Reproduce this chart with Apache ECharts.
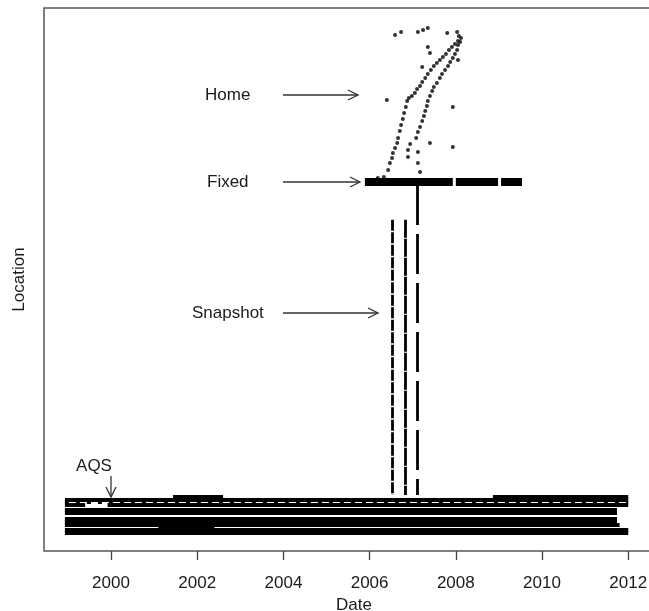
<!DOCTYPE html>
<html>

<head>
    <meta charset="UTF-8">
    <title>Location vs Date</title>
    <script src="https://cdn.jsdelivr.net/npm/echarts@6/dist/echarts.min.js"></script>
    <style>
        body { margin: 0; background: #fff; }
        #main { width: 649px; height: 611px; }
    </style>
</head>

<body>
    <div id="main"></div>

    <script>
        // x ticks
        var yearTicks = [2000, 2002, 2004, 2006, 2008, 2010, 2012];

        // AQS stations: location index, first and last date of record
        var aqsLoc   = [10.04, 10.04, 9.48, 8.47, 8.47, 7.55, 7.00, 5.97, 5.41, 4.83, 4.33, 3.83, 3.43];
        var aqsStart = [2001.44, 2008.86, 1998.93, 1998.93, 1999.92, 1998.93, 1998.93, 1998.93, 1998.93, 1998.93, 2001.10, 1998.93, 1998.93];
        var aqsEnd   = [2002.60, 2012.00, 2012.00, 1999.40, 2012.00, 2011.74, 2011.74, 2011.74, 2011.74, 2011.80, 2002.40, 2012.00, 2012.00];
        // intermittent AQS station
        var aqsGapLoc = [9.02];
        var aqsGapStart = [1998.93];
        var aqsGapEnd = [2012.00];

        // Fixed monitor: location and operating periods
        var fixedLoc = 68.0;
        var fixedStart = [2005.89, 2008.00, 2009.05];
        var fixedEnd = [2007.93, 2008.98, 2009.535];

        // Snapshot campaigns: date, highest and lowest location
        var snapDate = [2006.52, 2006.82, 2007.10];
        var snapTop = [61.0, 61.0, 67.4];
        var snapBottom = [10.3, 10.3, 10.3];

        // Home sites [date, location]
        var homePts = [
            [2006.19, 68.69], [2006.33, 68.88], [2006.43, 70.17], [2006.47, 71.45], [2006.52, 72.38],
            [2006.54, 73.30], [2006.59, 74.22], [2006.64, 75.14], [2006.66, 76.06], [2006.70, 77.35],
            [2006.73, 78.45], [2006.77, 79.56], [2006.80, 80.66], [2006.84, 81.77], [2006.87, 82.87],
            [2006.91, 83.43], [2006.98, 83.79], [2007.05, 84.35], [2007.10, 85.08], [2007.17, 85.64],
            [2007.22, 86.37], [2007.29, 87.11], [2007.35, 87.85], [2007.42, 88.58], [2007.49, 89.32],
            [2007.56, 89.87], [2007.63, 90.42], [2007.70, 90.98], [2007.77, 91.53], [2007.84, 92.27],
            [2007.91, 92.82], [2007.98, 93.37], [2008.05, 93.92], [2008.12, 94.48],
            [2006.89, 72.56], [2006.89, 73.85], [2006.94, 74.95], [2007.08, 76.06], [2007.12, 77.16],
            [2007.17, 78.08], [2007.22, 79.19], [2007.26, 80.11], [2007.29, 81.03], [2007.33, 81.95],
            [2007.35, 82.87], [2007.40, 83.79], [2007.45, 84.71], [2007.49, 85.45], [2007.56, 86.19],
            [2007.63, 87.11], [2007.68, 87.85], [2007.75, 88.58], [2007.82, 89.32], [2007.87, 90.06],
            [2007.93, 90.79], [2007.98, 91.53], [2008.03, 92.27], [2008.05, 93.19], [2008.10, 93.74],
            [2008.07, 94.84],
            [2006.40, 83.06], [2006.59, 95.03], [2006.73, 95.58], [2007.12, 95.58], [2007.24, 95.95],
            [2007.35, 96.32], [2007.80, 95.40], [2008.03, 95.58], [2007.93, 81.77], [2007.93, 74.40],
            [2007.40, 75.14], [2007.35, 92.82], [2007.40, 91.71], [2007.22, 89.13], [2007.12, 71.45],
            [2007.17, 69.80], [2007.12, 73.48], [2008.05, 90.42]
        ];

        var xMin = 1998.445, xMax = 2012.83;
        var FONT = '"Liberation Sans", Arial, sans-serif';

        function segs(loc, start, end) {
            var out = [];
            for (var i = 0; i < start.length; i++) {
                var l = Array.isArray(loc) ? loc[i] : loc;
                out.push({ coords: [[start[i], l], [end[i], l]] });
            }
            return out;
        }

        var snapData = [];
        var snapDash = [[11, 1.5], [18, 1], [40, 9]];
        for (var i = 0; i < snapDate.length; i++) {
            snapData.push({
                coords: [[snapDate[i], snapTop[i]], [snapDate[i], snapBottom[i]]],
                lineStyle: { type: snapDash[i] }
            });
        }

        // arrows for the annotations (pixel positions)
        function hArrow(x1, x2, y) {
            return [
                { type: 'line', shape: { x1: x1, y1: y, x2: x2, y2: y }, style: { stroke: '#333', lineWidth: 1.3 } },
                { type: 'polyline', shape: { points: [[x2 - 10, y - 5], [x2, y], [x2 - 10, y + 5]] }, style: { stroke: '#333', fill: null, lineWidth: 1.3 } }
            ];
        }
        function vArrow(x, y1, y2) {
            return [
                { type: 'line', shape: { x1: x, y1: y1, x2: x, y2: y2 }, style: { stroke: '#333', lineWidth: 1.3 } },
                { type: 'polyline', shape: { points: [[x - 5, y2 - 10], [x, y2], [x + 5, y2 - 10]] }, style: { stroke: '#333', fill: null, lineWidth: 1.3 } }
            ];
        }
        function label(txt, x, y, align) {
            return { type: 'text', x: x, y: y, style: { text: txt, font: '17px ' + FONT, fill: '#1a1a1a', textAlign: align || 'left', textVerticalAlign: 'middle' } };
        }

        var graphics = [].concat(
            [label('Home', 205, 95)], hArrow(283, 358, 95),
            [label('Fixed', 207, 182)], hArrow(283, 360, 182),
            [label('Snapshot', 192, 313)], hArrow(283, 378, 313),
            [label('AQS', 94, 466, 'center')], vArrow(111, 476, 497)
        );

        var myChart = echarts.init(document.getElementById('main'));

        var option = {
            animation: false,
            grid: {
                left: 44, top: 8, width: 620, height: 543,
                outerBoundsMode: 'none',
                show: true, borderColor: '#555', borderWidth: 1.5, backgroundColor: 'transparent'
            },
            xAxis: {
                type: 'value', min: xMin, max: xMax,
                axisLine: { show: false },
                splitLine: { show: false },
                axisTick: { show: true, length: 9, customValues: yearTicks, lineStyle: { color: '#444', width: 1.3 } },
                axisLabel: {
                    customValues: yearTicks, margin: 24, fontSize: 17, fontFamily: FONT, color: '#1a1a1a',
                    formatter: function (v) { return String(v); }
                },
                name: 'Date', nameLocation: 'middle', nameGap: 38,
                nameTextStyle: { fontSize: 17, fontFamily: FONT, color: '#1a1a1a' }
            },
            yAxis: {
                type: 'value', min: 0, max: 100,
                axisLine: { show: false },
                axisTick: { show: false },
                axisLabel: { show: false },
                splitLine: { show: false },
                name: 'Location', nameLocation: 'middle', nameGap: 16,
                nameTextStyle: { fontSize: 17, fontFamily: FONT, color: '#1a1a1a' }
            },
            series: [
                {
                    type: 'lines', coordinateSystem: 'cartesian2d', silent: true,
                    data: segs(aqsLoc, aqsStart, aqsEnd),
                    lineStyle: { color: '#000', width: 3.9, opacity: 1, cap: 'butt' }
                },
                {
                    type: 'lines', coordinateSystem: 'cartesian2d', silent: true,
                    data: segs(aqsGapLoc, aqsGapStart, aqsGapEnd),
                    lineStyle: { color: '#000', width: 3.2, opacity: 1, type: [4, 7], cap: 'butt' }
                },
                {
                    type: 'lines', coordinateSystem: 'cartesian2d', silent: true,
                    data: snapData,
                    lineStyle: { color: '#000', width: 2.8, opacity: 1, cap: 'butt' }
                },
                {
                    type: 'lines', coordinateSystem: 'cartesian2d', silent: true,
                    data: segs(fixedLoc, fixedStart, fixedEnd),
                    lineStyle: { color: '#000', width: 8, opacity: 1, cap: 'butt' }
                },
                {
                    type: 'scatter', silent: true,
                    data: homePts,
                    symbol: 'circle', symbolSize: 4,
                    itemStyle: { color: '#000' }
                }
            ],
            graphic: graphics
        };

        myChart.setOption(option);
    </script>
</body>

</html>
